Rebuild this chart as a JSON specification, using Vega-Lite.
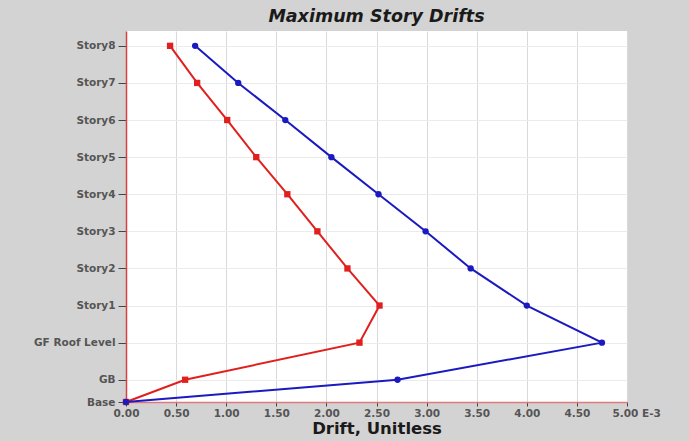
{
  "$schema": "https://vega.github.io/schema/vega-lite/v6.json",
  "autosize": {"type": "none"},
  "width": 501,
  "height": 371,
  "padding": {"left": 126, "top": 31, "right": 62, "bottom": 39},
  "background": "#d3d3d3",
  "title": {
    "text": "Maximum Story Drifts",
    "font": "DejaVu Sans",
    "fontSize": 17.5,
    "fontWeight": "bold",
    "fontStyle": "italic",
    "color": "#1a1a1a",
    "anchor": "middle",
    "frame": "group",
    "offset": 6
  },
  "config": {
    "view": {"fill": "#ffffff", "stroke": null}
  },
  "data": {
    "values": [
      {"series": "X", "level": "Base", "elev": 0, "drift": 0.0},
      {"series": "X", "level": "GB", "elev": 1.8, "drift": 0.59},
      {"series": "X", "level": "GF Roof Level", "elev": 4.8, "drift": 2.33},
      {"series": "X", "level": "Story1", "elev": 7.8, "drift": 2.53},
      {"series": "X", "level": "Story2", "elev": 10.8, "drift": 2.21},
      {"series": "X", "level": "Story3", "elev": 13.8, "drift": 1.91},
      {"series": "X", "level": "Story4", "elev": 16.8, "drift": 1.61},
      {"series": "X", "level": "Story5", "elev": 19.8, "drift": 1.30},
      {"series": "X", "level": "Story6", "elev": 22.8, "drift": 1.01},
      {"series": "X", "level": "Story7", "elev": 25.8, "drift": 0.71},
      {"series": "X", "level": "Story8", "elev": 28.8, "drift": 0.44},
      {"series": "Y", "level": "Base", "elev": 0, "drift": 0.0},
      {"series": "Y", "level": "GB", "elev": 1.8, "drift": 2.71},
      {"series": "Y", "level": "GF Roof Level", "elev": 4.8, "drift": 4.75},
      {"series": "Y", "level": "Story1", "elev": 7.8, "drift": 4.00},
      {"series": "Y", "level": "Story2", "elev": 10.8, "drift": 3.44},
      {"series": "Y", "level": "Story3", "elev": 13.8, "drift": 2.99},
      {"series": "Y", "level": "Story4", "elev": 16.8, "drift": 2.52},
      {"series": "Y", "level": "Story5", "elev": 19.8, "drift": 2.05},
      {"series": "Y", "level": "Story6", "elev": 22.8, "drift": 1.59},
      {"series": "Y", "level": "Story7", "elev": 25.8, "drift": 1.12},
      {"series": "Y", "level": "Story8", "elev": 28.8, "drift": 0.69}
    ]
  },
  "encoding": {
    "x": {
      "field": "drift",
      "type": "quantitative",
      "scale": {"domain": [0, 5], "nice": false, "zero": false},
      "axis": {
        "title": "Drift, Unitless",
        "titleFont": "DejaVu Sans",
        "titleFontSize": 16.5,
        "titleFontWeight": "bold",
        "titleColor": "#1a1a1a",
        "titlePadding": 2,
        "values": [0, 0.5, 1, 1.5, 2, 2.5, 3, 3.5, 4, 4.5, 5],
        "labelExpr": "datum.value == 5 ? '5.00 E-3' : format(datum.value, '.2f')",
        "labelAlign": {"condition": {"test": "datum.value == 5", "value": "left"}, "value": "center"},
        "labelOffset": {"condition": {"test": "datum.value == 5", "value": -15}, "value": 0},
        "labelFont": "DejaVu Sans",
        "labelFontSize": 10.5,
        "labelFontWeight": "bold",
        "labelColor": "#555555",
        "labelPadding": 2,
        "labelFlush": false,
        "labelOverlap": false,
        "tickSize": 4,
        "tickColor": "#444444",
        "domainColor": "#e07a7a",
        "domainWidth": 1.5,
        "gridColor": "#d9d9d9",
        "gridWidth": 1
      }
    },
    "y": {
      "field": "elev",
      "type": "quantitative",
      "scale": {"domain": [0, 30], "nice": false},
      "axis": {
        "title": null,
        "values": [0, 1.8, 4.8, 7.8, 10.8, 13.8, 16.8, 19.8, 22.8, 25.8, 28.8],
        "labelExpr": "datum.value == 0 ? 'Base' : datum.value == 1.8 ? 'GB' : datum.value == 4.8 ? 'GF Roof Level' : 'Story' + round((datum.value - 4.8) / 3)",
        "labelFont": "DejaVu Sans",
        "labelFontSize": 10.5,
        "labelFontWeight": "bold",
        "labelColor": "#555555",
        "labelPadding": 3,
        "labelOverlap": false,
        "labelFlush": false,
        "tickSize": 8,
        "tickColor": "#444444",
        "domainColor": "#d94040",
        "domainWidth": 1.5,
        "gridColor": "#ebebeb",
        "gridWidth": 1
      }
    },
    "color": {
      "field": "series",
      "type": "nominal",
      "scale": {"domain": ["X", "Y"], "range": ["#e0201e", "#1a1ac0"]},
      "legend": null
    },
    "order": {"field": "elev", "type": "quantitative"}
  },
  "layer": [
    {"mark": {"type": "line", "strokeWidth": 2}},
    {
      "mark": {"type": "point", "filled": true, "opacity": 1, "size": 40},
      "encoding": {
        "shape": {
          "field": "series",
          "type": "nominal",
          "scale": {"domain": ["X", "Y"], "range": ["square", "circle"]},
          "legend": null
        }
      }
    }
  ]
}
